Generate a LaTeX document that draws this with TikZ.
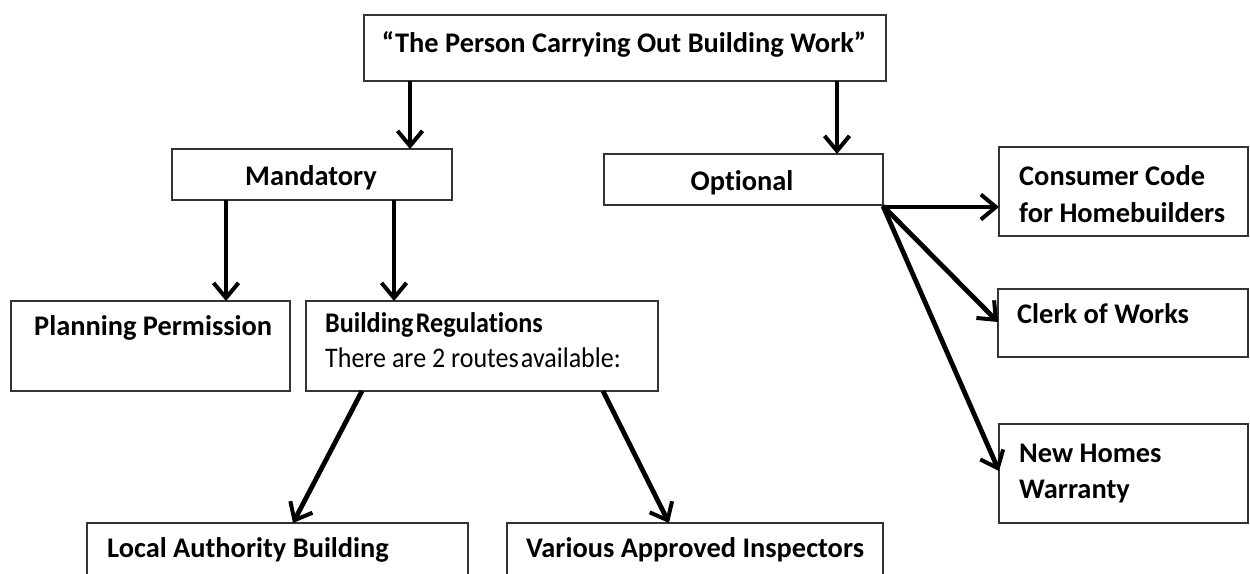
\documentclass[tikz,border=0pt]{standalone}
\usepackage{graphicx}
\usepackage{fontspec}
\setmainfont{Carlito}[Ligatures=CommonOff]
\usetikzlibrary{arrows.meta}

\begin{document}
\begin{tikzpicture}[x=1pt,y=-1pt,
  box/.style={draw=black!80, line width=1.3pt, fill=white, rectangle,
              inner sep=0pt, outer sep=0pt, anchor=north west},
  lbl/.style={inner sep=0pt, anchor=base west,
              font=\fontsize{28.4pt}{36pt}\selectfont\bfseries},
  ctr/.style={lbl, anchor=base},
  arr/.style={line width=4.8pt, draw=black,
              -{Straight Barb[length=15pt,width=25pt,line width=4pt]}}
]
\useasboundingbox (0,0) rectangle (1250,573);
\clip (0,0) rectangle (1250,573);

% boxes
\node[box, minimum width=522pt, minimum height=66pt]  (title) at (364,15)  {};
\node[box, minimum width=280pt, minimum height=51pt]  (mand)  at (172,149) {};
\node[box, minimum width=279pt, minimum height=51pt]  (opt)   at (604,154) {};
\node[box, minimum width=279pt, minimum height=90pt]  (plan)  at (11,301)  {};
\node[box, minimum width=352pt, minimum height=90pt]  (br)    at (306,301) {};
\node[box, minimum width=381pt, minimum height=90pt]  (local) at (87,523)  {};
\node[box, minimum width=376pt, minimum height=90pt]  (vai)   at (507,523) {};
\node[box, minimum width=249pt, minimum height=89pt]  (ccode) at (999,147) {};
\node[box, minimum width=250pt, minimum height=68pt]  (clerk) at (998,289) {};
\node[box, minimum width=249pt, minimum height=99pt]  (nhw)   at (999,424) {};

% texts, one node per line
\node[ctr] (t-title) at (624,52)  {“The Person Carrying Out Building Work”};
\node[ctr] (t-mand)  at (311,185) {Mandatory};
\node[ctr] (t-opt)   at (742,190) {Optional};
\node[lbl] (t-plan)  at (34,335)  {Planning Permission};
\node[lbl] (t-br1)   at (325,332) {\scalebox{0.92}[1]{Building\hspace{-0.14em} Regulations}};
\node[lbl] (t-br2)   at (325,367) {\mdseries\scalebox{0.916}[1]{There are 2 routes\hspace{-0.14em} available:}};
\node[lbl] (t-local) at (107,557) {Local Authority Building};
\node[lbl] (t-vai)   at (526,557) {Various Approved Inspectors};
\node[lbl] (t-cc1)   at (1019,185) {Consumer Code};
\node[lbl] (t-cc2)   at (1019,222) {for Homebuilders};
\node[lbl] (t-clerk) at (1017,323) {Clerk of Works};
\node[lbl] (t-nh1)   at (1019,462) {New Homes};
\node[lbl] (t-nh2)   at (1019,498) {Warranty};

% connectors
\draw[arr] ([xshift=46pt]title.south west) -- ([xshift=46pt]title.south west |- mand.north);
\draw[arr] ([xshift=-49pt]title.south east) -- ([xshift=-49pt]title.south east |- opt.north);
\draw[arr] ([xshift=54pt]mand.south west) -- ([xshift=54pt]mand.south west |- plan.north);
\draw[arr] ([xshift=222pt]mand.south west) -- ([xshift=222pt]mand.south west |- br.north);
\draw[arr] ([xshift=56pt]br.south west) -- ([xshift=206pt]local.north west);
\draw[arr] ([xshift=-55pt]br.south east) -- ([xshift=162pt]vai.north west);
\draw[arr] ([yshift=-2pt]opt.south east) -- ([yshift=-2pt]opt.south east -| ccode.west);
\draw[arr] ([yshift=-1pt]opt.south east) -- ([yshift=-33pt]clerk.north west);
\draw[arr] ([yshift=-1pt]opt.south east) -- ([yshift=-47pt]nhw.north west);
\end{tikzpicture}
\end{document}
